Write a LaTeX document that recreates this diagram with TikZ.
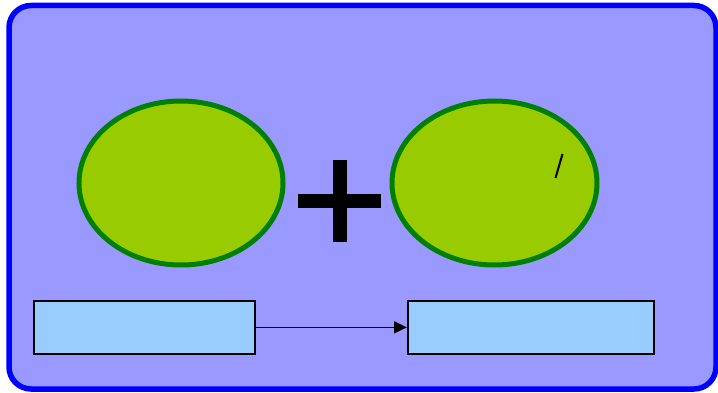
\documentclass[tikz,border=0pt]{standalone}
\usetikzlibrary{arrows.meta,shapes.geometric}
\definecolor{panelfill}{HTML}{9999FF}
\definecolor{paneledge}{HTML}{0000FF}
\definecolor{blobfill}{HTML}{99CC00}
\definecolor{blobedge}{HTML}{008000}
\definecolor{boxfill}{HTML}{99CCFF}
\tikzset{
  panel/.style={draw=paneledge, fill=panelfill, line width=5.5pt, rounded corners=22pt},
  blob/.style={draw=blobedge, fill=blobfill, line width=5pt, ellipse, inner sep=0pt},
  stagebox/.style={draw=black, fill=boxfill, line width=1.7pt, rectangle, inner sep=0pt, anchor=north west},
  flow/.style={draw=black, line width=1.5pt, -{Triangle[length=13pt,width=12pt]}},
  plusbar/.style={fill=black},
}
\begin{document}
\begin{tikzpicture}[x=1pt, y=-1pt]
  \useasboundingbox (0,0) rectangle (718,393);
  % outer rounded panel
  \draw[panel] (9,5.5) rectangle (716,389);
  % two ellipses
  \node[blob, minimum width=204pt, minimum height=164pt] (left) at (181,183) {};
  \node[blob, minimum width=205pt, minimum height=164pt] (right) at (494.5,183) {};
  % plus sign between them
  \fill[plusbar] (333,160) rectangle (347,242);
  \fill[plusbar] (298,194) rectangle (381,208);
  % small stroke inside the right ellipse
  \coordinate (s1) at (555.5,178);
  \coordinate (s2) at (562.5,154);
  \draw[line width=2pt] (s1) -- (s2);
  % bottom boxes and connector
  \node[stagebox, minimum width=221pt, minimum height=53pt] (boxa) at (33,300) {};
  \node[stagebox, minimum width=246pt, minimum height=53pt] (boxb) at (407,300) {};
  \draw[flow] (boxa.east) -- (boxb.west);
\end{tikzpicture}
\end{document}
